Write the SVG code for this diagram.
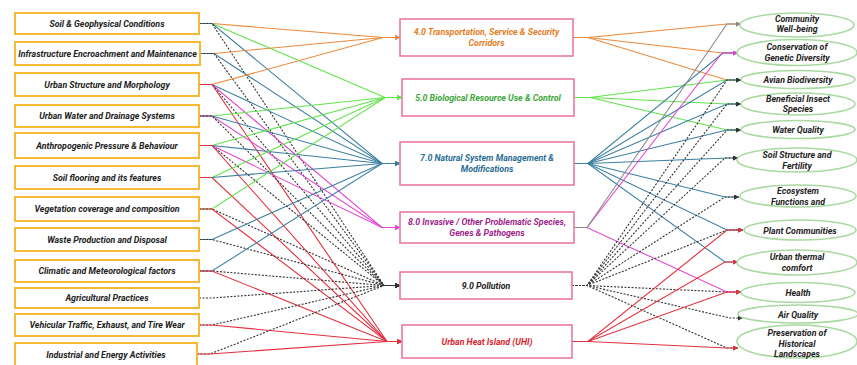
<svg xmlns="http://www.w3.org/2000/svg" width="857" height="365" viewBox="0 0 857 365">
<style>
.lb{fill:#fff;stroke:#f5b935;stroke-width:2}
.mb{fill:#fff;stroke:#e8729a;stroke-width:1.5}
.el{fill:#fff;stroke:#a9d9a0;stroke-width:1.6}
text{font-family:Roboto,"Liberation Sans",sans-serif;font-weight:bold;font-style:italic;font-size:8.8px;text-anchor:middle;fill:#222}
.c path{fill:none;stroke-width:1.1}
.o{stroke:#ec8a3c}
.g{stroke:#62e34b}
.t{stroke:#3b7fa0}
.m{stroke:#e445d2}
.r{stroke:#e3303f}
.d{stroke:#333;stroke-dasharray:2 1.5}
.y{stroke:#8a8a8a}
</style>
<defs>
<marker id="ao" viewBox="0 0 6 6" refX="6" refY="3" markerWidth="5" markerHeight="5" markerUnits="userSpaceOnUse" orient="auto"><path d="M0,0L6,3L0,6z" fill="#ec8a3c"/></marker>
<marker id="ag" viewBox="0 0 6 6" refX="6" refY="3" markerWidth="5" markerHeight="5" markerUnits="userSpaceOnUse" orient="auto"><path d="M0,0L6,3L0,6z" fill="#62e34b"/></marker>
<marker id="at" viewBox="0 0 6 6" refX="6" refY="3" markerWidth="5" markerHeight="5" markerUnits="userSpaceOnUse" orient="auto"><path d="M0,0L6,3L0,6z" fill="#3b7fa0"/></marker>
<marker id="am" viewBox="0 0 6 6" refX="6" refY="3" markerWidth="5" markerHeight="5" markerUnits="userSpaceOnUse" orient="auto"><path d="M0,0L6,3L0,6z" fill="#e445d2"/></marker>
<marker id="ar" viewBox="0 0 6 6" refX="6" refY="3" markerWidth="5" markerHeight="5" markerUnits="userSpaceOnUse" orient="auto"><path d="M0,0L6,3L0,6z" fill="#e3303f"/></marker>
<marker id="ad" viewBox="0 0 6 6" refX="6" refY="3" markerWidth="5" markerHeight="5" markerUnits="userSpaceOnUse" orient="auto"><path d="M0,0L6,3L0,6z" fill="#333"/></marker>
<marker id="ay" viewBox="0 0 6 6" refX="6" refY="3" markerWidth="5" markerHeight="5" markerUnits="userSpaceOnUse" orient="auto"><path d="M0,0L6,3L0,6z" fill="#8a8a8a"/></marker>
</defs>

<g id="connectors" class="c">
<!-- left to middle -->
<path class="o" marker-end="url(#ao)" d="M199,23.5L212,23.5L383,37.5L400,37.5"/>
<path class="g" marker-end="url(#ag)" d="M199,23.5L212,23.5L385,97.5L402,97.5"/>
<path class="t" marker-end="url(#at)" d="M199,23.5L212,23.5L382,163.5L400,163.5"/>
<path class="d" marker-end="url(#ad)" d="M199,23.5L212,23.5L384,285.5L400,285.5"/>

<path class="o" marker-end="url(#ao)" d="M200,53.5L214,53.5L383,37.5L400,37.5"/>
<path class="t" marker-end="url(#at)" d="M200,53.5L214,53.5L382,163.5L400,163.5"/>
<path class="d" marker-end="url(#ad)" d="M200,53.5L214,53.5L384,285.5L400,285.5"/>

<path class="o" marker-end="url(#ao)" d="M199,84.5L212,84.5L383,37.5L400,37.5"/>
<path class="t" marker-end="url(#at)" d="M199,84.5L212,84.5L382,163.5L400,163.5"/>
<path class="m" marker-end="url(#am)" d="M199,84.5L212,84.5L382,227.5L400,227.5"/>
<path class="d" marker-end="url(#ad)" d="M199,84.5L212,84.5L384,285.5L400,285.5"/>
<path class="r" marker-end="url(#ar)" d="M199,84.5L212,84.5L387,341.5L402,341.5"/>

<path class="g" marker-end="url(#ag)" d="M199,116L212,116L385,97.5L402,97.5"/>
<path class="t" marker-end="url(#at)" d="M199,116L212,116L382,163.5L400,163.5"/>
<path class="m" marker-end="url(#am)" d="M199,116L212,116L382,227.5L400,227.5"/>
<path class="d" marker-end="url(#ad)" d="M199,116L212,116L384,285.5L400,285.5"/>

<path class="g" marker-end="url(#ag)" d="M199,145.5L212,145.5L385,97.5L402,97.5"/>
<path class="t" marker-end="url(#at)" d="M199,145.5L212,145.5L382,163.5L400,163.5"/>
<path class="m" marker-end="url(#am)" d="M199,145.5L212,145.5L382,227.5L400,227.5"/>
<path class="d" marker-end="url(#ad)" d="M199,145.5L212,145.5L384,285.5L400,285.5"/>
<path class="r" marker-end="url(#ar)" d="M199,145.5L212,145.5L387,341.5L402,341.5"/>

<path class="g" marker-end="url(#ag)" d="M199,177.5L212,177.5L385,97.5L402,97.5"/>
<path class="t" marker-end="url(#at)" d="M199,177.5L212,177.5L382,163.5L400,163.5"/>
<path class="r" marker-end="url(#ar)" d="M199,177.5L212,177.5L387,341.5L402,341.5"/>

<path class="g" marker-end="url(#ag)" d="M199,209L212,209L385,97.5L402,97.5"/>
<path class="d" marker-end="url(#ad)" d="M199,209L212,209L384,285.5L400,285.5"/>
<path class="r" marker-end="url(#ar)" d="M199,209L212,209L387,341.5L402,341.5"/>

<path class="t" marker-end="url(#at)" d="M199,239.5L212,239.5L382,163.5L400,163.5"/>
<path class="d" marker-end="url(#ad)" d="M199,239.5L212,239.5L384,285.5L400,285.5"/>

<path class="t" marker-end="url(#at)" d="M199,271L212,271L382,163.5L400,163.5"/>
<path class="d" marker-end="url(#ad)" d="M199,271L212,271L384,285.5L400,285.5"/>
<path class="r" marker-end="url(#ar)" d="M199,271L212,271L387,341.5L402,341.5"/>

<path class="d" marker-end="url(#ad)" d="M199,298L212,298L384,285.5L400,285.5"/>

<path class="d" marker-end="url(#ad)" d="M199,325L212,325L384,285.5L400,285.5"/>
<path class="r" marker-end="url(#ar)" d="M199,325L212,325L387,341.5L402,341.5"/>

<path class="d" marker-end="url(#ad)" d="M197,354L210,354L384,285.5L400,285.5"/>
<path class="r" marker-end="url(#ar)" d="M197,354L210,354L387,341.5L402,341.5"/>

<!-- middle to right -->
<path class="o" marker-end="url(#ao)" d="M573,37.5L588,37.5L727,24L741,24"/>
<path class="o" marker-end="url(#ao)" d="M573,37.5L588,37.5L723,53L738,53"/>
<path class="o" marker-end="url(#ao)" d="M573,37.5L588,37.5L727,80L741,80"/>

<path class="g" marker-end="url(#ag)" d="M574,97.5L590,97.5L727,80L741,80"/>
<path class="g" marker-end="url(#ag)" d="M574,97.5L590,97.5L727,104L741,104"/>
<path class="g" marker-end="url(#ag)" d="M574,97.5L590,97.5L727,130L741,130"/>

<path class="t" marker-end="url(#at)" d="M574,163.5L588,163.5L723,53L738,53"/>
<path class="t" marker-end="url(#at)" d="M574,163.5L588,163.5L727,80L741,80"/>
<path class="t" marker-end="url(#at)" d="M574,163.5L588,163.5L727,104L741,104"/>
<path class="t" marker-end="url(#at)" d="M574,163.5L588,163.5L727,130L741,130"/>
<path class="t" marker-end="url(#at)" d="M574,163.5L588,163.5L727,158L738,158"/>
<path class="t" marker-end="url(#at)" d="M574,163.5L588,163.5L725,197L739,197"/>
<path class="t" marker-end="url(#at)" d="M574,163.5L588,163.5L727,230L743,230"/>
<path class="t" marker-end="url(#at)" d="M574,163.5L588,163.5L725,262L738,262"/>

<path class="m" marker-end="url(#am)" d="M574,227.5L587,227.5L722,53L738,53"/>
<path class="m" marker-end="url(#am)" d="M574,227.5L587,227.5L727,292L741,292"/>
<path class="y" marker-end="url(#ay)" d="M574,227.5L587,227.5L727,24L741,24"/>

<path class="d" marker-end="url(#ad)" d="M572,285.5L587,285.5L727,80L741,80"/>
<path class="d" marker-end="url(#ad)" d="M572,285.5L587,285.5L727,104L741,104"/>
<path class="d" marker-end="url(#ad)" d="M572,285.5L587,285.5L727,130L741,130"/>
<path class="d" marker-end="url(#ad)" d="M572,285.5L587,285.5L725,158L738,158"/>
<path class="d" marker-end="url(#ad)" d="M572,285.5L587,285.5L725,197L739,197"/>
<path class="d" marker-end="url(#ad)" d="M572,285.5L587,285.5L727,230L743,230"/>
<path class="d" marker-end="url(#ad)" d="M572,285.5L587,285.5L727,292L741,292"/>
<path class="d" marker-end="url(#ad)" d="M572,285.5L587,285.5L730,318L743,318"/>
<path class="d" marker-end="url(#ad)" d="M572,285.5L587,285.5L727,348L738,348"/>

<path class="r" marker-end="url(#ar)" d="M572,341.5L588,341.5L727,230L743,230"/>
<path class="r" marker-end="url(#ar)" d="M572,341.5L588,341.5L725,262L738,262"/>
<path class="r" marker-end="url(#ar)" d="M572,341.5L588,341.5L727,292L741,292"/>
<path class="r" marker-end="url(#ar)" d="M572,341.5L588,341.5L727,348L738,348"/>
</g>

<!-- left nodes -->
<g id="soil-geophysical"><rect class="lb" x="15" y="13" width="184" height="21"/><text x="107" y="26.5">Soil &amp; Geophysical Conditions</text></g>
<g id="infrastructure"><rect class="lb" x="15" y="42" width="185" height="23"/><text x="107.5" y="56.5">Infrastructure Encroachment and Maintenance</text></g>
<g id="urban-structure"><rect class="lb" x="15" y="73" width="184" height="23"/><text x="107" y="87.5">Urban Structure and Morphology</text></g>
<g id="urban-water"><rect class="lb" x="15" y="105" width="184" height="22"/><text x="107" y="119">Urban Water and Drainage Systems</text></g>
<g id="anthropogenic"><rect class="lb" x="15" y="133" width="184" height="25"/><text x="107" y="148.5">Anthropogenic Pressure &amp; Behaviour</text></g>
<g id="soil-flooring"><rect class="lb" x="15" y="166" width="184" height="23"/><text x="107" y="180.5">Soil flooring and its features</text></g>
<g id="vegetation"><rect class="lb" x="15" y="197" width="184" height="24"/><text x="107" y="212">Vegetation coverage and composition</text></g>
<g id="waste"><rect class="lb" x="15" y="228" width="184" height="23"/><text x="107" y="243">Waste Production and Disposal</text></g>
<g id="climatic"><rect class="lb" x="15" y="260" width="184" height="22"/><text x="107" y="274">Climatic and Meteorological factors</text></g>
<g id="agricultural"><rect class="lb" x="15" y="288" width="184" height="20"/><text x="107" y="301">Agricultural Practices</text></g>
<g id="vehicular"><rect class="lb" x="15" y="314" width="184" height="22"/><text x="107" y="328">Vehicular Traffic, Exhaust, and Tire Wear</text></g>
<g id="industrial"><rect class="lb" x="15" y="343" width="182" height="23"/><text x="106" y="357.5">Industrial and Energy Activities</text></g>

<!-- middle nodes -->
<g id="transport"><rect class="mb" x="400" y="19" width="173" height="37"/><text x="486.5" y="35" style="fill:#e37d24">4.0 Transportation, Service &amp; Security</text><text x="486.5" y="46" style="fill:#e37d24">Corridors</text></g>
<g id="biological"><rect class="mb" x="402" y="79" width="172" height="37"/><text x="488" y="101" style="fill:#3ca63a">5.0 Biological Resource Use &amp; Control</text></g>
<g id="natural"><rect class="mb" x="400" y="142" width="174" height="43"/><text x="487" y="161" style="fill:#2a6e93">7.0 Natural System Management &amp;</text><text x="487" y="172" style="fill:#2a6e93">Modifications</text></g>
<g id="invasive"><rect class="mb" x="400" y="212" width="174" height="31"/><text x="487" y="225" style="fill:#9e1f8c">8.0 Invasive / Other Problematic Species,</text><text x="487" y="236" style="fill:#9e1f8c">Genes &amp; Pathogens</text></g>
<g id="pollution"><rect class="mb" x="400" y="272" width="172" height="27"/><text x="486" y="289">9.0 Pollution</text></g>
<g id="uhi"><rect class="mb" x="402" y="325" width="170" height="33"/><text x="487" y="345" style="fill:#d61f30">Urban Heat Island (UHI)</text></g>

<!-- right nodes -->
<g id="community"><ellipse class="el" cx="797" cy="25" rx="57" ry="12"/><text x="797" y="22">Community</text><text x="797" y="32">Well-being</text></g>
<g id="genetic"><ellipse class="el" cx="797" cy="52.5" rx="60" ry="13"/><text x="797" y="50">Conservation of</text><text x="797" y="60.5">Genetic Diversity</text></g>
<g id="avian"><ellipse class="el" cx="798" cy="79.5" rx="57" ry="9"/><text x="798" y="83">Avian Biodiversity</text></g>
<g id="insect"><ellipse class="el" cx="798" cy="104" rx="57" ry="11"/><text x="798" y="102">Beneficial Insect</text><text x="798" y="112">Species</text></g>
<g id="water"><ellipse class="el" cx="798" cy="129.5" rx="57" ry="9"/><text x="798" y="133">Water Quality</text></g>
<g id="soil-structure"><ellipse class="el" cx="797" cy="160" rx="60" ry="12"/><text x="797" y="158">Soil Structure and</text><text x="797" y="168.5">Fertility</text></g>
<g id="ecosystem"><ellipse class="el" cx="798" cy="196" rx="58" ry="11"/><text x="798" y="194">Ecosystem</text><text x="798" y="204.5">Functions and</text></g>
<g id="plant"><ellipse class="el" cx="800" cy="230" rx="56" ry="10"/><text x="800" y="233.5">Plant Communities</text></g>
<g id="thermal"><ellipse class="el" cx="797" cy="262.5" rx="60" ry="12.5"/><text x="797" y="260">Urban thermal</text><text x="797" y="270.5">comfort</text></g>
<g id="health"><ellipse class="el" cx="798" cy="292.5" rx="57" ry="10"/><text x="798" y="296">Health</text></g>
<g id="air"><ellipse class="el" cx="798" cy="314" rx="60" ry="9"/><text x="798" y="317.5">Air Quality</text></g>
<g id="historical"><ellipse class="el" cx="797" cy="341.5" rx="60" ry="16.5"/><text x="797" y="336">Preservation of</text><text x="797" y="346.5">Historical</text><text x="797" y="357">Landscapes</text></g>
</svg>
